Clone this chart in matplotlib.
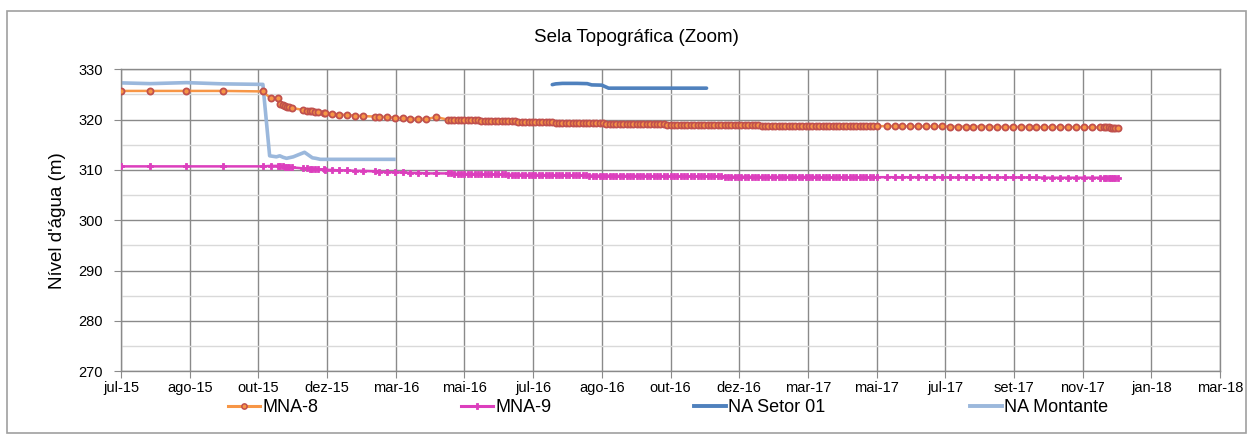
import numpy as np
import pandas as pd
import matplotlib
matplotlib.use("Agg")
import matplotlib.pyplot as plt
from matplotlib.patches import Rectangle
from matplotlib.lines import Line2D

plt.rcParams['font.family'] = ['Liberation Sans', 'DejaVu Sans']

# ---------------- DATA ----------------
title = "Sela Topográfica (Zoom)"
ylabel = "Nível d'água (m)"
start_date = "2015-07-01"   # day 0 of the day offsets below

tick_dates = ['2015-07-01', '2015-08-31', '2015-10-31', '2015-12-31', '2016-03-01',
              '2016-05-01', '2016-07-01', '2016-08-31', '2016-10-31', '2016-12-31',
              '2017-03-02', '2017-05-02', '2017-07-02', '2017-09-01', '2017-11-01',
              '2018-01-01', '2018-03-03']
tick_labels = ['jul-15', 'ago-15', 'out-15', 'dez-15', 'mar-16', 'mai-16', 'jul-16',
               'ago-16', 'out-16', 'dez-16', 'mar-17', 'mai-17', 'jul-17', 'set-17',
               'nov-17', 'jan-18', 'mar-18']

# measurement days (offset from start_date) shared by MNA-8 and MNA-9
mna_days = [0, 26, 58, 91, 126,
            133, 139, 141, 144, 146, 147, 149, 152, 162, 165, 168, 170, 172, 175, 180,
            181, 187, 194, 201, 208, 215, 226, 229, 236, 243, 250, 257, 264, 271, 280,
            290, 293, 296, 299, 302, 305, 308, 311, 314, 317,
            320, 323, 326, 329, 332, 335, 338, 341, 344, 347,
            350, 353, 356, 359, 362, 365, 368, 371, 374, 377,
            380, 383, 386, 389, 392, 395, 398, 401, 404, 407,
            410, 413, 416, 419, 422, 425, 428, 431, 434, 437,
            440, 443, 446, 449, 452, 455, 458, 461, 464, 467,
            470, 473, 476, 479, 482, 485, 488, 491, 494, 497,
            500, 503, 506, 509, 512, 515, 518, 521, 524, 527,
            530, 533, 536, 539, 542, 545, 548, 551, 554, 557,
            560, 563, 566, 569, 572, 575, 578, 581, 584, 587,
            590, 593, 596, 599, 602, 605, 608, 611, 614, 617,
            620, 623, 626, 629, 632, 635, 638, 641, 644, 647,
            650, 653, 656, 659, 662, 665, 668, 671,
            680, 687, 694, 701, 708, 715, 722, 729, 736, 743, 750, 757, 764, 771,
            778, 785, 792, 799, 806, 813, 820, 827, 834, 841, 848, 855, 862, 869,
            873, 875, 877, 879, 881, 883, 885]

mna8 = [325.7, 325.7, 325.7, 325.7, 325.6,
        324.2, 324.2, 323.1, 322.9, 322.7, 322.6, 322.5, 322.3, 321.9, 321.8, 321.7,
        321.7, 321.6, 321.5, 321.3, 321.3, 321.2, 321.0, 320.9, 320.8, 320.7, 320.6,
        320.6, 320.5, 320.4, 320.3, 320.2, 320.2, 320.1, 320.5,
        320.0, 320.0, 319.95, 319.95, 319.9, 319.9, 319.9, 319.85, 319.85, 319.85,
        319.8, 319.8, 319.8, 319.8, 319.75, 319.75, 319.7, 319.7, 319.7, 319.65,
        319.65, 319.6, 319.6, 319.55, 319.55, 319.5, 319.5, 319.5, 319.5, 319.45,
        319.45, 319.45, 319.4, 319.4, 319.4, 319.35, 319.35, 319.35, 319.35, 319.3,
        319.3, 319.3, 319.3, 319.25, 319.25, 319.25, 319.25, 319.2, 319.2, 319.2,
        319.2, 319.15, 319.15, 319.15, 319.15, 319.1, 319.1, 319.1, 319.1, 319.1,
        319.05, 319.05, 319.05, 319.05, 319.05, 319.0, 319.0, 319.0, 319.0, 319.0,
        319.0, 318.95, 318.95, 318.95, 318.95, 318.95, 318.95, 318.9, 318.9, 318.9,
        318.9, 318.9, 318.9, 318.9, 318.9, 318.85, 318.85, 318.85, 318.85, 318.85,
        318.85, 318.85, 318.85, 318.8, 318.8, 318.8, 318.8, 318.8, 318.8, 318.8,
        318.8, 318.8, 318.8, 318.8, 318.8, 318.75, 318.75, 318.75, 318.75, 318.75,
        318.75, 318.75, 318.75, 318.75, 318.7, 318.7, 318.7, 318.7, 318.7, 318.7,
        318.7, 318.7, 318.7, 318.7, 318.7, 318.7, 318.7, 318.7,
        318.7, 318.7, 318.7, 318.65, 318.65, 318.65, 318.65, 318.65, 318.6, 318.6,
        318.6, 318.6, 318.6, 318.6, 318.55, 318.55, 318.55, 318.55, 318.55, 318.5,
        318.5, 318.5, 318.5, 318.5, 318.5, 318.5, 318.45, 318.45,
        318.45, 318.45, 318.45, 318.4, 318.4, 318.4, 318.4]

mna9 = [310.7, 310.7, 310.7, 310.7, 310.7,
        310.8, 310.8, 310.7, 310.7, 310.6, 310.6, 310.5, 310.5, 310.3, 310.3, 310.2,
        310.2, 310.2, 310.1, 310.1, 310.0, 310.0, 309.9, 309.9, 309.8, 309.8, 309.7,
        309.6, 309.6, 309.5, 309.5, 309.4, 309.4, 309.3, 309.3,
        309.3, 309.3, 309.25, 309.25, 309.25, 309.2, 309.2, 309.2, 309.2, 309.15,
        309.15, 309.15, 309.15, 309.1, 309.1, 309.1, 309.1, 309.1, 309.05, 309.05,
        309.05, 309.05, 309.05, 309.0, 309.0, 309.0, 309.0, 309.0, 309.0, 308.95,
        308.95, 308.95, 308.95, 308.95, 308.95, 308.9, 308.9, 308.9, 308.9, 308.9,
        308.9, 308.9, 308.85, 308.85, 308.85, 308.85, 308.85, 308.85, 308.85, 308.85,
        308.8, 308.8, 308.8, 308.8, 308.8, 308.8, 308.8, 308.8, 308.8, 308.8,
        308.75, 308.75, 308.75, 308.75, 308.75, 308.75, 308.75, 308.75, 308.75, 308.75,
        308.7, 308.7, 308.7, 308.7, 308.7, 308.7, 308.7, 308.7, 308.7, 308.7,
        308.7, 308.7, 308.65, 308.65, 308.65, 308.65, 308.65, 308.65, 308.65, 308.65,
        308.65, 308.65, 308.65, 308.6, 308.6, 308.6, 308.6, 308.6, 308.6, 308.6,
        308.6, 308.6, 308.6, 308.6, 308.6, 308.6, 308.6, 308.6, 308.6, 308.6,
        308.55, 308.55, 308.55, 308.55, 308.55, 308.55, 308.55, 308.55, 308.55, 308.55,
        308.55, 308.55, 308.55, 308.55, 308.55, 308.55, 308.55, 308.55,
        308.55, 308.55, 308.55, 308.55, 308.55, 308.55, 308.55, 308.55, 308.5, 308.5,
        308.5, 308.5, 308.5, 308.5, 308.5, 308.5, 308.5, 308.5, 308.5, 308.5,
        308.45, 308.45, 308.45, 308.45, 308.45, 308.45, 308.45, 308.45,
        308.45, 308.45, 308.45, 308.45, 308.4, 308.4, 308.4]

setor_days = [383, 386, 392, 405, 414, 418, 427, 433, 520]
setor_vals = [326.95, 327.1, 327.2, 327.2, 327.15, 326.9, 326.85, 326.25, 326.25]

mont_days = [0, 26, 58, 91, 126, 132, 138, 141, 144, 147, 153, 163, 170, 173, 177, 244]
mont_vals = [327.3, 327.15, 327.35, 327.1, 327.0, 312.8, 312.6, 312.8, 312.5, 312.3,
             312.6, 313.5, 312.4, 312.3, 312.1, 312.1]

series_names = ['MNA-8', 'MNA-9', 'NA Setor 01', 'NA Montante']
y_min, y_max = 270, 330

# ---------------- PLOT ----------------
W, H = 1253, 434
fig = plt.figure(figsize=(W / 100, H / 100), dpi=100)
ax = fig.add_axes([121 / W, 1 - 371.1 / H, 1099 / W, 301.8 / H])

t0 = np.datetime64(start_date)
def to_dates(days):
    return t0 + np.array(days).astype('timedelta64[D]')

grid_major = '#8a8a8a'
grid_minor = '#d9d9d9'
c8_line, c8_edge = '#f79646', '#c0504d'
c9 = '#dc3fbd'

h_mont, = ax.plot(to_dates(mont_days), mont_vals, color='#9bb8dc', lw=2.6,
                  solid_capstyle='butt', zorder=2)
h8, = ax.plot(to_dates(mna_days), mna8, color=c8_line, lw=1.8, marker='o',
              ms=4.4, mfc=c8_line, mec=c8_edge, mew=1.3, zorder=3)
h9, = ax.plot(to_dates(mna_days), mna9, color=c9, lw=1.8, marker='P',
              ms=5.0, mfc=c9, mec=c9, mew=0.6, zorder=3)
h_set, = ax.plot(to_dates(setor_days), setor_vals, color='#4f81bd', lw=2.6,
                 solid_capstyle='round', zorder=4)

ax.set_ylim(y_min, y_max)
ax.set_yticks(np.arange(y_min, y_max + 1, 10))
ax.set_yticks(np.arange(y_min + 5, y_max, 10), minor=True)
tick_dt = pd.to_datetime(tick_dates)
ax.set_xlim(tick_dt[0], tick_dt[-1])
ax.set_xticks(tick_dt)
ax.set_xticklabels(tick_labels)

ax.grid(True, which='major', axis='both', color=grid_major, lw=1.0, zorder=0)
ax.grid(True, which='minor', axis='y', color=grid_minor, lw=1.0, zorder=0)
ax.set_axisbelow(True)
for s in ax.spines.values():
    s.set_color(grid_major)
    s.set_linewidth(1.0)

ax.tick_params(axis='x', which='major', direction='out', length=5,
               color=grid_major, labelsize=10.5, labelcolor='black', pad=2)
ax.tick_params(axis='y', which='major', direction='out', length=5,
               color=grid_major, labelsize=10.5, labelcolor='black', pad=8)
ax.tick_params(axis='y', which='minor', length=0)
ax.set_ylabel(ylabel, fontsize=13.5, labelpad=9)

fig.text(636 / W, 1 - 37 / H, title, ha='center', va='center', fontsize=13.5)

# legend entries placed individually along the bottom
handles = [
    Line2D([], [], color=c8_line, lw=2.2, marker='o', ms=3.8, mfc=c8_line,
           mec=c8_edge, mew=1.1),
    Line2D([], [], color=c9, lw=2.2, marker='P', ms=4.3, mfc=c9, mec=c9, mew=0.6),
    Line2D([], [], color='#4f81bd', lw=2.8),
    Line2D([], [], color='#9bb8dc', lw=2.8),
]
leg_x = [228, 461, 694, 970]
for hnd, name, lx in zip(handles, series_names, leg_x):
    fig.legend([hnd], [name], loc='center left',
               bbox_to_anchor=(lx / W, 1 - 408 / H), frameon=False,
               fontsize=13, handlelength=1.75, handletextpad=0.15,
               borderpad=0, borderaxespad=0)

# chart border
fig.patches.append(Rectangle((7 / W, 1 - 433 / H), (1246 - 7) / W, (433 - 11) / H,
                             transform=fig.transFigure, fill=False,
                             edgecolor='#a0a0a0', lw=1.2))

fig.savefig('out.png', dpi=100)
